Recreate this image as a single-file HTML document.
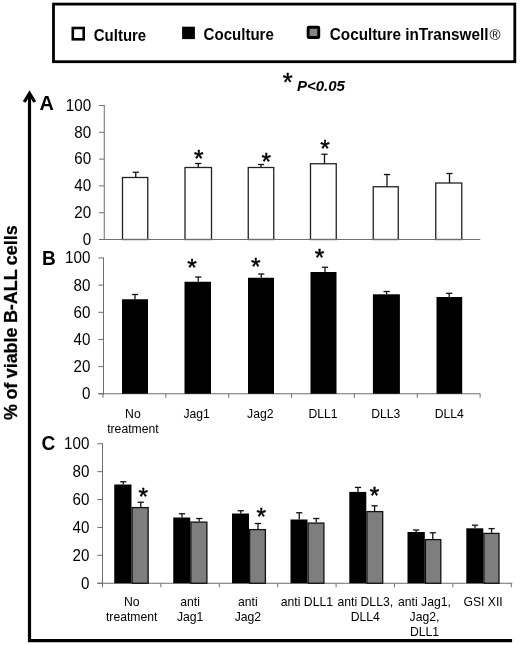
<!DOCTYPE html>
<html><head><meta charset="utf-8"><title>Figure</title>
<style>
html,body{margin:0;padding:0;background:#fff;}
body{width:520px;height:645px;overflow:hidden;}
svg{display:block;font-family:"Liberation Sans", sans-serif;}
</style></head><body>
<svg width="520" height="645" viewBox="0 0 520 645">
<rect x="0" y="0" width="520" height="645" fill="#fff"/>
<rect x="53.5" y="4.1" width="461.3" height="57.6" fill="#fff" stroke="#000" stroke-width="2.8"/>
<rect x="72.80" y="28.00" width="10.90" height="11.30" fill="#fff" stroke="#000" stroke-width="2.6"/>
<text x="93.80" y="40.70" font-size="16" text-anchor="start" font-weight="bold" font-style="normal" fill="#000" textLength="52.4" lengthAdjust="spacingAndGlyphs">Culture</text>
<rect x="182.10" y="26.70" width="12.80" height="12.40" fill="#000"/>
<text x="203.60" y="39.60" font-size="16" text-anchor="start" font-weight="bold" font-style="normal" fill="#000" textLength="70.2" lengthAdjust="spacingAndGlyphs">Coculture</text>
<rect x="308.15" y="27.25" width="10.6" height="10.3" rx="0.8" fill="#858585" stroke="#000" stroke-width="2.9"/>
<text x="329.80" y="39.60" font-size="16" text-anchor="start" font-weight="bold" font-style="normal" fill="#000" textLength="158.6" lengthAdjust="spacingAndGlyphs">Coculture inTranswell</text>
<text x="489.40" y="39.60" font-size="15" text-anchor="start" font-weight="normal" font-style="normal" fill="#000">®</text>
<text x="287.70" y="90.75" font-size="25.5" text-anchor="middle" font-weight="normal" font-style="normal" fill="#000" stroke="#000" stroke-width="0.45">*</text>
<text x="296.90" y="90.80" font-size="14" text-anchor="start" font-weight="bold" font-style="italic" fill="#000" textLength="48" lengthAdjust="spacingAndGlyphs">P&lt;0.05</text>
<path d="M29.5 94 V640.6 H512.1" fill="none" stroke="#000" stroke-width="3.2"/>
<path d="M24.2 102.0 L29.5 93.4 L34.8 102.0" fill="none" stroke="#000" stroke-width="3.2" stroke-linejoin="miter" stroke-miterlimit="10"/>
<text transform="translate(17.3,419.9) rotate(-90)" font-size="18.5" font-weight="bold" fill="#000" word-spacing="-0.7" textLength="194.6" lengthAdjust="spacingAndGlyphs" stroke="#000" stroke-width="0.25">% of viable B-ALL cells</text>
<line x1="135.75" y1="172.25" x2="135.75" y2="177.50" stroke="#111" stroke-width="1.3"/>
<line x1="132.65" y1="172.25" x2="138.85" y2="172.25" stroke="#111" stroke-width="1.3"/>
<rect x="122.50" y="177.50" width="25.25" height="62.00" fill="#fff" stroke="#222" stroke-width="1.3"/>
<line x1="198.25" y1="163.50" x2="198.25" y2="167.50" stroke="#111" stroke-width="1.3"/>
<line x1="195.15" y1="163.50" x2="201.35" y2="163.50" stroke="#111" stroke-width="1.3"/>
<rect x="185.00" y="167.50" width="26.50" height="72.00" fill="#fff" stroke="#222" stroke-width="1.3"/>
<line x1="261.00" y1="164.50" x2="261.00" y2="167.50" stroke="#111" stroke-width="1.3"/>
<line x1="257.90" y1="164.50" x2="264.10" y2="164.50" stroke="#111" stroke-width="1.3"/>
<rect x="248.25" y="167.50" width="25.50" height="72.00" fill="#fff" stroke="#222" stroke-width="1.3"/>
<line x1="324.50" y1="154.25" x2="324.50" y2="163.75" stroke="#111" stroke-width="1.3"/>
<line x1="321.40" y1="154.25" x2="327.60" y2="154.25" stroke="#111" stroke-width="1.3"/>
<rect x="310.50" y="163.75" width="25.75" height="75.75" fill="#fff" stroke="#222" stroke-width="1.3"/>
<line x1="387.00" y1="174.50" x2="387.00" y2="186.75" stroke="#111" stroke-width="1.3"/>
<line x1="383.90" y1="174.50" x2="390.10" y2="174.50" stroke="#111" stroke-width="1.3"/>
<rect x="373.25" y="186.75" width="25.00" height="52.75" fill="#fff" stroke="#222" stroke-width="1.3"/>
<line x1="449.50" y1="173.50" x2="449.50" y2="183.00" stroke="#111" stroke-width="1.3"/>
<line x1="446.40" y1="173.50" x2="452.60" y2="173.50" stroke="#111" stroke-width="1.3"/>
<rect x="435.75" y="183.00" width="26.00" height="56.50" fill="#fff" stroke="#222" stroke-width="1.3"/>
<text x="198.75" y="166.95" font-size="24.5" text-anchor="middle" font-weight="normal" font-style="normal" fill="#000" stroke="#000" stroke-width="0.45">*</text>
<text x="266.25" y="169.70" font-size="24.5" text-anchor="middle" font-weight="normal" font-style="normal" fill="#000" stroke="#000" stroke-width="0.45">*</text>
<text x="325.00" y="157.20" font-size="24.5" text-anchor="middle" font-weight="normal" font-style="normal" fill="#000" stroke="#000" stroke-width="0.45">*</text>
<line x1="104.25" y1="105.00" x2="104.25" y2="240.00" stroke="#6e6e6e" stroke-width="1"/>
<line x1="99.05" y1="105.50" x2="104.25" y2="105.50" stroke="#6e6e6e" stroke-width="1"/>
<text x="91.15" y="110.85" font-size="15.7" text-anchor="end" font-weight="normal" font-style="normal" fill="#000" textLength="25.3" lengthAdjust="spacingAndGlyphs">100</text>
<line x1="99.05" y1="132.30" x2="104.25" y2="132.30" stroke="#6e6e6e" stroke-width="1"/>
<text x="91.15" y="137.65" font-size="15.7" text-anchor="end" font-weight="normal" font-style="normal" fill="#000" textLength="16.85" lengthAdjust="spacingAndGlyphs">80</text>
<line x1="99.05" y1="159.10" x2="104.25" y2="159.10" stroke="#6e6e6e" stroke-width="1"/>
<text x="91.15" y="164.45" font-size="15.7" text-anchor="end" font-weight="normal" font-style="normal" fill="#000" textLength="16.85" lengthAdjust="spacingAndGlyphs">60</text>
<line x1="99.05" y1="185.90" x2="104.25" y2="185.90" stroke="#6e6e6e" stroke-width="1"/>
<text x="91.15" y="191.25" font-size="15.7" text-anchor="end" font-weight="normal" font-style="normal" fill="#000" textLength="16.85" lengthAdjust="spacingAndGlyphs">40</text>
<line x1="99.05" y1="212.70" x2="104.25" y2="212.70" stroke="#6e6e6e" stroke-width="1"/>
<text x="91.15" y="218.05" font-size="15.7" text-anchor="end" font-weight="normal" font-style="normal" fill="#000" textLength="16.85" lengthAdjust="spacingAndGlyphs">20</text>
<line x1="99.05" y1="239.50" x2="104.25" y2="239.50" stroke="#6e6e6e" stroke-width="1"/>
<text x="91.15" y="244.85" font-size="15.7" text-anchor="end" font-weight="normal" font-style="normal" fill="#000" textLength="8.43" lengthAdjust="spacingAndGlyphs">0</text>
<text x="39.60" y="110.40" font-size="20" text-anchor="start" font-weight="bold" font-style="normal" fill="#000" textLength="14.4" lengthAdjust="spacingAndGlyphs">A</text>
<line x1="99.05" y1="239.50" x2="480.30" y2="239.50" stroke="#6e6e6e" stroke-width="1"/>
<line x1="103.50" y1="257.50" x2="103.50" y2="394.25" stroke="#6e6e6e" stroke-width="1"/>
<line x1="98.30" y1="258.00" x2="103.50" y2="258.00" stroke="#6e6e6e" stroke-width="1"/>
<text x="90.40" y="263.35" font-size="15.7" text-anchor="end" font-weight="normal" font-style="normal" fill="#000" textLength="25.3" lengthAdjust="spacingAndGlyphs">100</text>
<line x1="98.30" y1="285.15" x2="103.50" y2="285.15" stroke="#6e6e6e" stroke-width="1"/>
<text x="90.40" y="290.50" font-size="15.7" text-anchor="end" font-weight="normal" font-style="normal" fill="#000" textLength="16.85" lengthAdjust="spacingAndGlyphs">80</text>
<line x1="98.30" y1="312.30" x2="103.50" y2="312.30" stroke="#6e6e6e" stroke-width="1"/>
<text x="90.40" y="317.65" font-size="15.7" text-anchor="end" font-weight="normal" font-style="normal" fill="#000" textLength="16.85" lengthAdjust="spacingAndGlyphs">60</text>
<line x1="98.30" y1="339.45" x2="103.50" y2="339.45" stroke="#6e6e6e" stroke-width="1"/>
<text x="90.40" y="344.80" font-size="15.7" text-anchor="end" font-weight="normal" font-style="normal" fill="#000" textLength="16.85" lengthAdjust="spacingAndGlyphs">40</text>
<line x1="98.30" y1="366.60" x2="103.50" y2="366.60" stroke="#6e6e6e" stroke-width="1"/>
<text x="90.40" y="371.95" font-size="15.7" text-anchor="end" font-weight="normal" font-style="normal" fill="#000" textLength="16.85" lengthAdjust="spacingAndGlyphs">20</text>
<line x1="98.30" y1="393.75" x2="103.50" y2="393.75" stroke="#6e6e6e" stroke-width="1"/>
<text x="90.40" y="399.10" font-size="15.7" text-anchor="end" font-weight="normal" font-style="normal" fill="#000" textLength="8.43" lengthAdjust="spacingAndGlyphs">0</text>
<text x="42.00" y="265.00" font-size="20" text-anchor="start" font-weight="bold" font-style="normal" fill="#000" textLength="13.8" lengthAdjust="spacingAndGlyphs">B</text>
<line x1="98.30" y1="393.75" x2="480.30" y2="393.75" stroke="#6e6e6e" stroke-width="1"/>
<line x1="103.00" y1="393.75" x2="103.00" y2="397.75" stroke="#6e6e6e" stroke-width="1"/>
<line x1="165.85" y1="393.75" x2="165.85" y2="397.75" stroke="#6e6e6e" stroke-width="1"/>
<line x1="228.70" y1="393.75" x2="228.70" y2="397.75" stroke="#6e6e6e" stroke-width="1"/>
<line x1="291.55" y1="393.75" x2="291.55" y2="397.75" stroke="#6e6e6e" stroke-width="1"/>
<line x1="354.40" y1="393.75" x2="354.40" y2="397.75" stroke="#6e6e6e" stroke-width="1"/>
<line x1="417.25" y1="393.75" x2="417.25" y2="397.75" stroke="#6e6e6e" stroke-width="1"/>
<line x1="480.10" y1="393.75" x2="480.10" y2="397.75" stroke="#6e6e6e" stroke-width="1"/>
<line x1="135.00" y1="294.50" x2="135.00" y2="299.25" stroke="#111" stroke-width="1.3"/>
<line x1="131.90" y1="294.50" x2="138.10" y2="294.50" stroke="#111" stroke-width="1.3"/>
<rect x="122.00" y="299.25" width="26.00" height="94.50" fill="#000"/>
<line x1="198.25" y1="277.00" x2="198.25" y2="281.75" stroke="#111" stroke-width="1.3"/>
<line x1="195.15" y1="277.00" x2="201.35" y2="277.00" stroke="#111" stroke-width="1.3"/>
<rect x="184.50" y="281.75" width="26.50" height="112.00" fill="#000"/>
<line x1="261.25" y1="274.00" x2="261.25" y2="277.75" stroke="#111" stroke-width="1.3"/>
<line x1="258.15" y1="274.00" x2="264.35" y2="274.00" stroke="#111" stroke-width="1.3"/>
<rect x="248.00" y="277.75" width="26.00" height="116.00" fill="#000"/>
<line x1="325.00" y1="267.25" x2="325.00" y2="272.00" stroke="#111" stroke-width="1.3"/>
<line x1="321.90" y1="267.25" x2="328.10" y2="267.25" stroke="#111" stroke-width="1.3"/>
<rect x="310.50" y="272.00" width="26.00" height="121.75" fill="#000"/>
<line x1="386.60" y1="291.50" x2="386.60" y2="294.30" stroke="#111" stroke-width="1.3"/>
<line x1="383.50" y1="291.50" x2="389.70" y2="291.50" stroke="#111" stroke-width="1.3"/>
<rect x="372.90" y="294.30" width="27.00" height="99.45" fill="#000"/>
<line x1="449.20" y1="293.30" x2="449.20" y2="297.00" stroke="#111" stroke-width="1.3"/>
<line x1="446.10" y1="293.30" x2="452.30" y2="293.30" stroke="#111" stroke-width="1.3"/>
<rect x="436.50" y="297.00" width="25.70" height="96.75" fill="#000"/>
<text x="192.00" y="275.95" font-size="24.5" text-anchor="middle" font-weight="normal" font-style="normal" fill="#000" stroke="#000" stroke-width="0.45">*</text>
<text x="255.75" y="275.45" font-size="24.5" text-anchor="middle" font-weight="normal" font-style="normal" fill="#000" stroke="#000" stroke-width="0.45">*</text>
<text x="319.50" y="265.95" font-size="24.5" text-anchor="middle" font-weight="normal" font-style="normal" fill="#000" stroke="#000" stroke-width="0.45">*</text>
<text x="132.90" y="418.00" font-size="12.2" text-anchor="middle" font-weight="normal" font-style="normal" fill="#000">No</text>
<text x="132.90" y="432.60" font-size="12.2" text-anchor="middle" font-weight="normal" font-style="normal" fill="#000">treatment</text>
<text x="196.70" y="418.00" font-size="12.2" text-anchor="middle" font-weight="normal" font-style="normal" fill="#000">Jag1</text>
<text x="260.30" y="418.00" font-size="12.2" text-anchor="middle" font-weight="normal" font-style="normal" fill="#000">Jag2</text>
<text x="323.10" y="418.00" font-size="12.2" text-anchor="middle" font-weight="normal" font-style="normal" fill="#000">DLL1</text>
<text x="385.80" y="418.00" font-size="12.2" text-anchor="middle" font-weight="normal" font-style="normal" fill="#000">DLL3</text>
<text x="449.20" y="418.00" font-size="12.2" text-anchor="middle" font-weight="normal" font-style="normal" fill="#000">DLL4</text>
<line x1="102.50" y1="443.25" x2="102.50" y2="583.75" stroke="#6e6e6e" stroke-width="1"/>
<line x1="97.30" y1="443.75" x2="102.50" y2="443.75" stroke="#6e6e6e" stroke-width="1"/>
<text x="89.40" y="449.10" font-size="15.7" text-anchor="end" font-weight="normal" font-style="normal" fill="#000" textLength="25.3" lengthAdjust="spacingAndGlyphs">100</text>
<line x1="97.30" y1="471.65" x2="102.50" y2="471.65" stroke="#6e6e6e" stroke-width="1"/>
<text x="89.40" y="477.00" font-size="15.7" text-anchor="end" font-weight="normal" font-style="normal" fill="#000" textLength="16.85" lengthAdjust="spacingAndGlyphs">80</text>
<line x1="97.30" y1="499.55" x2="102.50" y2="499.55" stroke="#6e6e6e" stroke-width="1"/>
<text x="89.40" y="504.90" font-size="15.7" text-anchor="end" font-weight="normal" font-style="normal" fill="#000" textLength="16.85" lengthAdjust="spacingAndGlyphs">60</text>
<line x1="97.30" y1="527.45" x2="102.50" y2="527.45" stroke="#6e6e6e" stroke-width="1"/>
<text x="89.40" y="532.80" font-size="15.7" text-anchor="end" font-weight="normal" font-style="normal" fill="#000" textLength="16.85" lengthAdjust="spacingAndGlyphs">40</text>
<line x1="97.30" y1="555.35" x2="102.50" y2="555.35" stroke="#6e6e6e" stroke-width="1"/>
<text x="89.40" y="560.70" font-size="15.7" text-anchor="end" font-weight="normal" font-style="normal" fill="#000" textLength="16.85" lengthAdjust="spacingAndGlyphs">20</text>
<line x1="97.30" y1="583.25" x2="102.50" y2="583.25" stroke="#6e6e6e" stroke-width="1"/>
<text x="89.40" y="588.60" font-size="15.7" text-anchor="end" font-weight="normal" font-style="normal" fill="#000" textLength="8.43" lengthAdjust="spacingAndGlyphs">0</text>
<text x="41.40" y="449.50" font-size="20" text-anchor="start" font-weight="bold" font-style="normal" fill="#000" textLength="13.8" lengthAdjust="spacingAndGlyphs">C</text>
<line x1="97.30" y1="583.25" x2="512.30" y2="583.25" stroke="#6e6e6e" stroke-width="1"/>
<line x1="102.50" y1="583.25" x2="102.50" y2="587.25" stroke="#6e6e6e" stroke-width="1"/>
<line x1="160.90" y1="583.25" x2="160.90" y2="587.25" stroke="#6e6e6e" stroke-width="1"/>
<line x1="219.30" y1="583.25" x2="219.30" y2="587.25" stroke="#6e6e6e" stroke-width="1"/>
<line x1="277.70" y1="583.25" x2="277.70" y2="587.25" stroke="#6e6e6e" stroke-width="1"/>
<line x1="336.10" y1="583.25" x2="336.10" y2="587.25" stroke="#6e6e6e" stroke-width="1"/>
<line x1="394.50" y1="583.25" x2="394.50" y2="587.25" stroke="#6e6e6e" stroke-width="1"/>
<line x1="452.90" y1="583.25" x2="452.90" y2="587.25" stroke="#6e6e6e" stroke-width="1"/>
<line x1="511.30" y1="583.25" x2="511.30" y2="587.25" stroke="#6e6e6e" stroke-width="1"/>
<line x1="123.25" y1="481.75" x2="123.25" y2="484.50" stroke="#111" stroke-width="1.3"/>
<line x1="120.15" y1="481.75" x2="126.35" y2="481.75" stroke="#111" stroke-width="1.3"/>
<line x1="140.75" y1="502.25" x2="140.75" y2="507.00" stroke="#111" stroke-width="1.3"/>
<line x1="137.65" y1="502.25" x2="143.85" y2="502.25" stroke="#111" stroke-width="1.3"/>
<rect x="114.25" y="484.50" width="17.25" height="98.75" fill="#000"/>
<rect x="132.10" y="507.60" width="16.05" height="75.65" fill="#7e7e7e" stroke="#111" stroke-width="1.3"/>
<line x1="182.00" y1="513.75" x2="182.00" y2="517.50" stroke="#111" stroke-width="1.3"/>
<line x1="178.90" y1="513.75" x2="185.10" y2="513.75" stroke="#111" stroke-width="1.3"/>
<line x1="199.25" y1="518.50" x2="199.25" y2="521.50" stroke="#111" stroke-width="1.3"/>
<line x1="196.15" y1="518.50" x2="202.35" y2="518.50" stroke="#111" stroke-width="1.3"/>
<rect x="173.25" y="517.50" width="17.00" height="65.75" fill="#000"/>
<rect x="190.85" y="522.10" width="16.05" height="61.15" fill="#7e7e7e" stroke="#111" stroke-width="1.3"/>
<line x1="240.75" y1="510.75" x2="240.75" y2="513.50" stroke="#111" stroke-width="1.3"/>
<line x1="237.65" y1="510.75" x2="243.85" y2="510.75" stroke="#111" stroke-width="1.3"/>
<line x1="258.00" y1="523.50" x2="258.00" y2="529.00" stroke="#111" stroke-width="1.3"/>
<line x1="254.90" y1="523.50" x2="261.10" y2="523.50" stroke="#111" stroke-width="1.3"/>
<rect x="232.00" y="513.50" width="17.00" height="69.75" fill="#000"/>
<rect x="249.60" y="529.60" width="15.80" height="53.65" fill="#7e7e7e" stroke="#111" stroke-width="1.3"/>
<line x1="299.25" y1="512.75" x2="299.25" y2="519.50" stroke="#111" stroke-width="1.3"/>
<line x1="296.15" y1="512.75" x2="302.35" y2="512.75" stroke="#111" stroke-width="1.3"/>
<line x1="316.25" y1="518.50" x2="316.25" y2="522.50" stroke="#111" stroke-width="1.3"/>
<line x1="313.15" y1="518.50" x2="319.35" y2="518.50" stroke="#111" stroke-width="1.3"/>
<rect x="290.50" y="519.50" width="17.00" height="63.75" fill="#000"/>
<rect x="308.10" y="523.10" width="15.80" height="60.15" fill="#7e7e7e" stroke="#111" stroke-width="1.3"/>
<line x1="358.00" y1="487.40" x2="358.00" y2="491.90" stroke="#111" stroke-width="1.3"/>
<line x1="354.90" y1="487.40" x2="361.10" y2="487.40" stroke="#111" stroke-width="1.3"/>
<line x1="374.60" y1="505.80" x2="374.60" y2="511.00" stroke="#111" stroke-width="1.3"/>
<line x1="371.50" y1="505.80" x2="377.70" y2="505.80" stroke="#111" stroke-width="1.3"/>
<rect x="349.30" y="491.90" width="17.00" height="91.35" fill="#000"/>
<rect x="366.90" y="511.60" width="15.80" height="71.65" fill="#7e7e7e" stroke="#111" stroke-width="1.3"/>
<line x1="416.20" y1="530.00" x2="416.20" y2="532.00" stroke="#111" stroke-width="1.3"/>
<line x1="413.10" y1="530.00" x2="419.30" y2="530.00" stroke="#111" stroke-width="1.3"/>
<line x1="432.80" y1="532.80" x2="432.80" y2="539.00" stroke="#111" stroke-width="1.3"/>
<line x1="429.70" y1="532.80" x2="435.90" y2="532.80" stroke="#111" stroke-width="1.3"/>
<rect x="407.50" y="532.00" width="17.30" height="51.25" fill="#000"/>
<rect x="425.40" y="539.60" width="15.40" height="43.65" fill="#7e7e7e" stroke="#111" stroke-width="1.3"/>
<line x1="475.00" y1="525.20" x2="475.00" y2="528.30" stroke="#111" stroke-width="1.3"/>
<line x1="471.90" y1="525.20" x2="478.10" y2="525.20" stroke="#111" stroke-width="1.3"/>
<line x1="491.60" y1="528.60" x2="491.60" y2="532.80" stroke="#111" stroke-width="1.3"/>
<line x1="488.50" y1="528.60" x2="494.70" y2="528.60" stroke="#111" stroke-width="1.3"/>
<rect x="466.30" y="528.30" width="17.00" height="54.95" fill="#000"/>
<rect x="483.90" y="533.40" width="15.10" height="49.85" fill="#7e7e7e" stroke="#111" stroke-width="1.3"/>
<text x="143.25" y="504.70" font-size="24.5" text-anchor="middle" font-weight="normal" font-style="normal" fill="#000" stroke="#000" stroke-width="0.45">*</text>
<text x="261.25" y="524.70" font-size="24.5" text-anchor="middle" font-weight="normal" font-style="normal" fill="#000" stroke="#000" stroke-width="0.45">*</text>
<text x="374.60" y="503.75" font-size="24.5" text-anchor="middle" font-weight="normal" font-style="normal" fill="#000" stroke="#000" stroke-width="0.45">*</text>
<text x="131.70" y="606.20" font-size="12.2" text-anchor="middle" font-weight="normal" font-style="normal" fill="#000">No</text>
<text x="131.70" y="620.95" font-size="12.2" text-anchor="middle" font-weight="normal" font-style="normal" fill="#000">treatment</text>
<text x="190.10" y="606.20" font-size="12.2" text-anchor="middle" font-weight="normal" font-style="normal" fill="#000">anti</text>
<text x="190.10" y="620.95" font-size="12.2" text-anchor="middle" font-weight="normal" font-style="normal" fill="#000">Jag1</text>
<text x="247.90" y="606.20" font-size="12.2" text-anchor="middle" font-weight="normal" font-style="normal" fill="#000">anti</text>
<text x="247.90" y="620.95" font-size="12.2" text-anchor="middle" font-weight="normal" font-style="normal" fill="#000">Jag2</text>
<text x="306.90" y="606.20" font-size="12.2" text-anchor="middle" font-weight="normal" font-style="normal" fill="#000">anti DLL1</text>
<text x="365.30" y="606.20" font-size="12.2" text-anchor="middle" font-weight="normal" font-style="normal" fill="#000">anti DLL3,</text>
<text x="365.30" y="620.95" font-size="12.2" text-anchor="middle" font-weight="normal" font-style="normal" fill="#000">DLL4</text>
<text x="424.50" y="606.20" font-size="12.2" text-anchor="middle" font-weight="normal" font-style="normal" fill="#000">anti Jag1,</text>
<text x="424.50" y="620.95" font-size="12.2" text-anchor="middle" font-weight="normal" font-style="normal" fill="#000">Jag2,</text>
<text x="424.50" y="635.70" font-size="12.2" text-anchor="middle" font-weight="normal" font-style="normal" fill="#000">DLL1</text>
<text x="483.10" y="606.20" font-size="12.2" text-anchor="middle" font-weight="normal" font-style="normal" fill="#000">GSI XII</text>
</svg>
</body></html>
